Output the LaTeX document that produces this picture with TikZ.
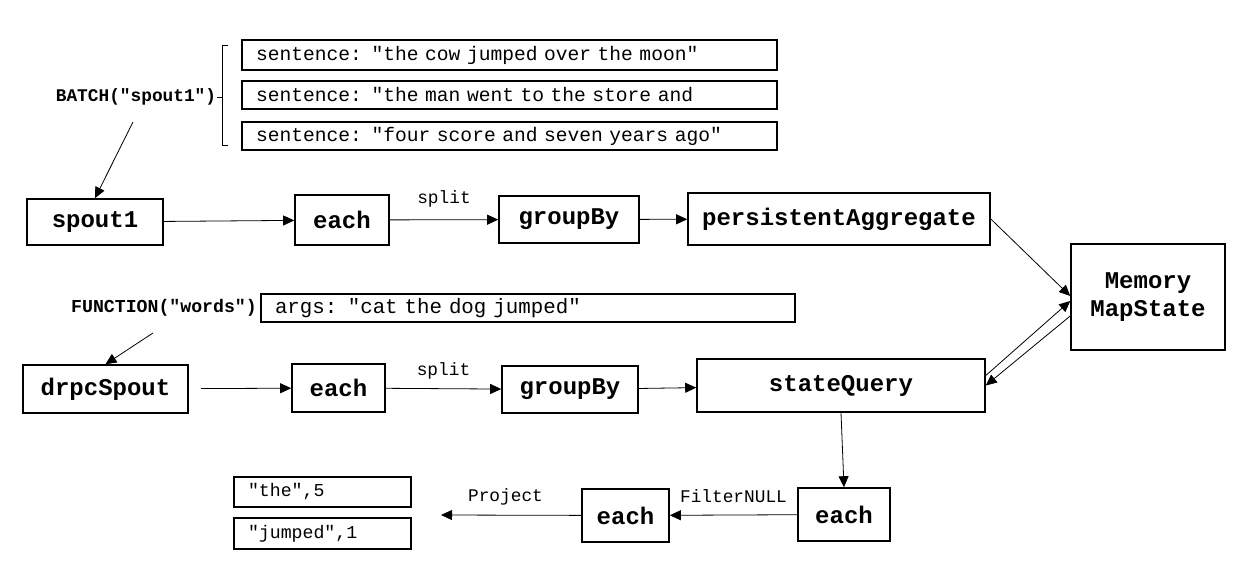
\documentclass[tikz,border=0pt]{standalone}
\usepackage{fontspec}
\setmonofont{Liberation Mono}
\usetikzlibrary{arrows.meta}
\tikzset{
  ar/.style={-{Triangle[length=11pt,width=10pt]},line width=0.8pt},
  blk/.style={draw,line width=1.6pt,inner sep=0pt,align=center,font=\fontsize{24}{28}\selectfont\ttfamily\bfseries},
  txtbox/.style={draw,line width=1.4pt,inner xsep=14pt,inner ysep=0pt,align=left,font=\fontsize{19.6}{22}\selectfont\ttfamily},
  lbl/.style={inner sep=1pt,font=\fontsize{17.8}{20}\selectfont\ttfamily},
  blbl/.style={inner sep=1pt,font=\fontsize{17.8}{20}\selectfont\ttfamily\bfseries}
}

\begin{document}
\begin{tikzpicture}[x=1pt,y=-1pt]
\useasboundingbox (0,0) rectangle (1253,561);

% input batch
\node[txtbox,minimum width=535pt,text width=507pt,minimum height=30pt] (s1) at (509.5,55) {sentence: "the cow jumped over the moon"};
\node[txtbox,minimum width=535pt,text width=507pt,minimum height=28pt] (s2) at (509.5,95) {sentence: "the man went to the store and};
\node[txtbox,minimum width=535pt,text width=507pt,minimum height=28pt] (s3) at (509.5,136) {sentence: "four score and seven years ago"};
\draw[line width=0.8pt] (228,45) -- (222,45) -- (222,145) -- (228,145);
\coordinate (brk) at (222,97);
\node[blbl] (batch) at (136,97) {BATCH("spout1")};
\draw[line width=0.8pt] (batch.east) -- (brk);
\coordinate (batchFrom) at (133,122);

% top stream
\node[blk,minimum width=136pt,minimum height=46pt] (spout1) at (95,222) {spout1};
\node[blk,minimum width=94pt,minimum height=50pt] (each1) at (342,220) {each};
\node[blk,minimum width=140pt,minimum height=47pt] (group1) at (569,219.5) {groupBy};
\node[blk,minimum width=302pt,minimum height=52pt] (pagg) at (839,219) {persistentAggregate};
\node[blk,minimum width=154pt,minimum height=106pt] (mem) at (1148,297) {Memory\\MapState};

\draw[ar] (batchFrom) -- (spout1.north);
\draw[ar] (spout1) -- (each1);
\draw[ar] (each1) -- node[lbl,above=11pt] {split} (group1);
\draw[ar] (group1) -- (pagg);
\draw[ar] (pagg.east) -- ([yshift=1pt]mem.west);

% drpc stream
\node[blbl,font=\fontsize{18.2}{20}\selectfont\ttfamily\bfseries] (func) at (164,307.5) {FUNCTION("words")};
\node[txtbox,font=\fontsize{20.8}{22}\selectfont\ttfamily,minimum width=534pt,text width=506pt,minimum height=28pt] (args) at (528,308) {args: "cat the dog jumped"};
\coordinate (funcFrom) at (153,333);
\node[blk,minimum width=165pt,minimum height=48pt] (drpc) at (105.5,389) {drpcSpout};
\node[blk,minimum width=93pt,minimum height=48pt] (each2) at (338.5,388) {each};
\node[blk,minimum width=136pt,minimum height=47pt] (group2) at (570,389.5) {groupBy};
\node[blk,minimum width=288pt,minimum height=53pt] (sq) at (841,385.5) {stateQuery};

\draw[ar] (funcFrom) -- (drpc.north);
\draw[ar,shorten <=12pt] (drpc) -- (each2);
\draw[ar] (each2) -- node[lbl,above=8pt] {split} (group2);
\draw[ar] (group2) -- (sq);
\draw[ar] ([yshift=10pt]sq.east) -- ([yshift=-4pt]mem.west);
\draw[ar] ([yshift=-19pt]mem.west) -- (sq.east);

% results
\node[blk,minimum width=92pt,minimum height=53pt] (each3) at (844,514.5) {each};
\node[blk,minimum width=87pt,minimum height=53pt] (each4) at (625.5,515.5) {each};
\coordinate (projEnd) at (441,515);
\node[txtbox,font=\fontsize{18.2}{20}\selectfont\ttfamily,minimum width=177pt,text width=149pt,minimum height=30pt] (out1) at (322.5,492) {"the",5};
\node[txtbox,font=\fontsize{18.2}{20}\selectfont\ttfamily,minimum width=177pt,text width=149pt,minimum height=31pt] (out2) at (322.5,533.5) {"jumped",1};

\draw[ar] (sq.south) -- (each3.north);
\draw[ar] (each3) -- node[lbl,above=11pt] {FilterNULL} (each4);
\draw[ar] (each4) -- node[lbl,above=9pt,pos=0.54] {Project} (projEnd);
\end{tikzpicture}
\end{document}
